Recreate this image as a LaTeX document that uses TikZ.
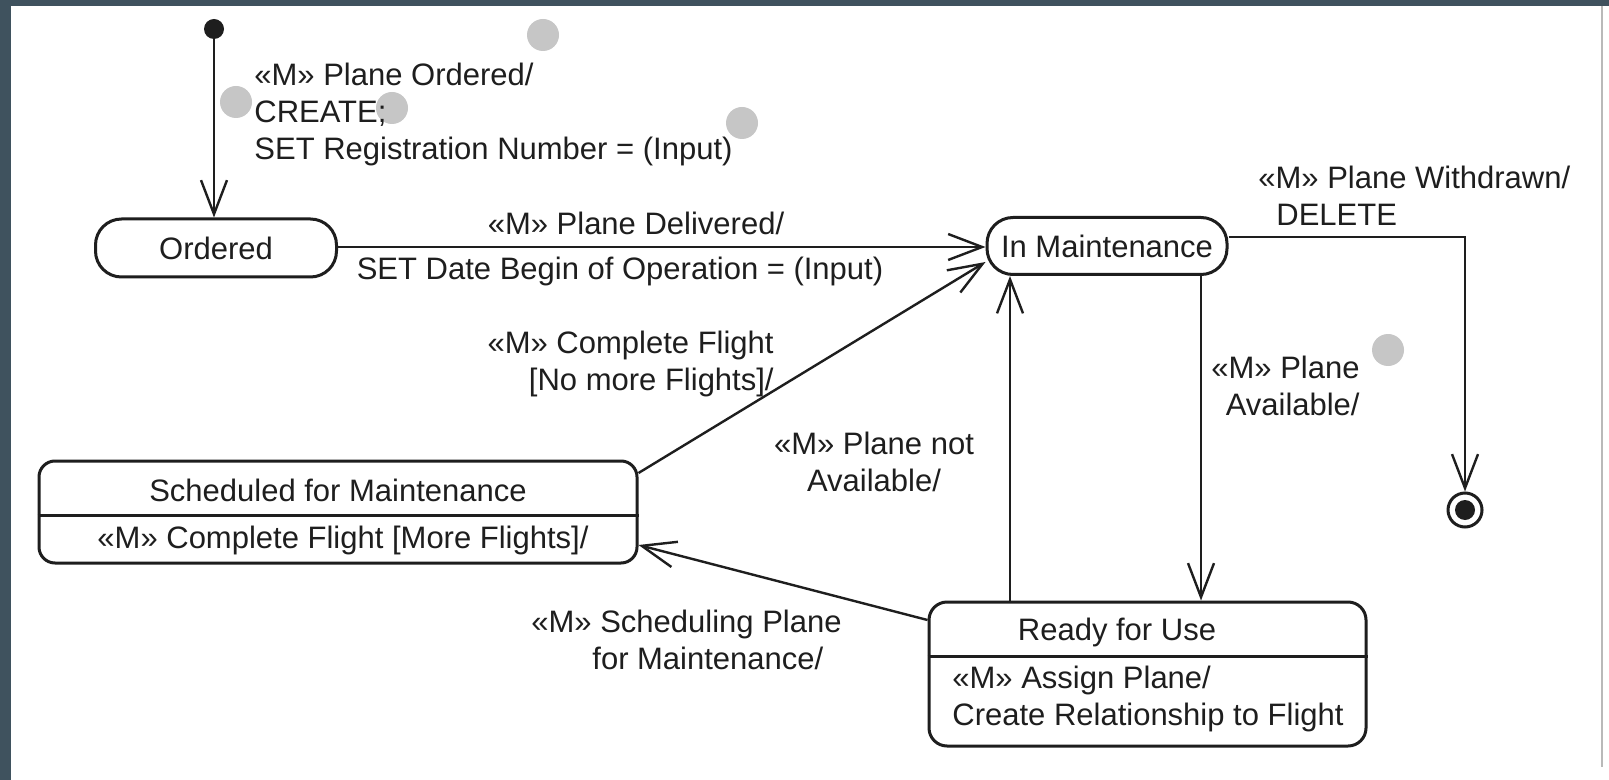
\documentclass[tikz,border=0pt]{standalone}
\usepackage{fontspec}
\setmainfont{Liberation Sans}
\usetikzlibrary{arrows.meta}
\definecolor{frame}{HTML}{3F525E}
\definecolor{marker}{HTML}{C6C6C6}
\definecolor{ink}{HTML}{1E1E1E}
\begin{document}
\begin{tikzpicture}[x=0.5pt,y=-0.5pt,
  txt/.style={font=\fontsize{15.5}{18.5}\selectfont, text=ink, inner sep=0pt},
  statebox/.style={draw=ink, line width=1.5pt, fill=white, inner sep=0pt},
  conn/.style={draw=ink, line width=1.2pt, -{Straight Barb[length=17pt,width=13pt,line width=1.2pt]}},
  markerdot/.style={circle, fill=marker, minimum size=16pt, inner sep=0pt}
]
\fill[white] (0,0) rectangle (1609,780);
\fill[frame] (0,0) rectangle (11,780);
\fill[frame] (0,0) rectangle (1609,6);
\draw[gray!55, line width=1pt] (1602,6) -- (1602,767);
\useasboundingbox (0,0) rectangle (1609,780);

% grey numbered markers
\node[markerdot] (m1) at (543,35) {};
\node[markerdot] (m2) at (236,102) {};
\node[markerdot] (m3) at (392,108) {};
\node[markerdot] (m4) at (742,123) {};
\node[markerdot] (m5) at (1388,350) {};
\node[markerdot] (m6) at (1266,687) {};

% states
\node[circle, fill=ink, minimum size=10pt, inner sep=0pt] (init) at (214,29) {};
\node[statebox, txt, minimum width=120.5pt, minimum height=29pt, rounded corners=13pt] (ordered) at (216,248) {Ordered};
\node[statebox, txt, minimum width=120pt, minimum height=28.5pt, rounded corners=13pt] (inmaint) at (1107,246) {In Maintenance};
\node[statebox, minimum width=299pt, minimum height=51pt, rounded corners=8pt] (sched) at (338,512) {};
\draw[ink, line width=1.5pt] (sched.west |- 0,515) -- (sched.east |- 0,515);
\node[txt] (schedtitle) at (338,490) {Scheduled for Maintenance};
\node[txt] (schedbody) at (343,540) {«M» Complete Flight [More Flights]/};
\node[statebox, minimum width=218.5pt, minimum height=72pt, rounded corners=9pt] (ready) at (1147.5,674) {};
\draw[ink, line width=1.5pt] (ready.west |- 0,656) -- (ready.east |- 0,656);
\node[txt] (readytitle) at (1117,632) {Ready for Use};
\node[txt, align=left, anchor=west] (readybody) at (952,699) {«M» Assign Plane/\\Create Relationship to Flight};
\node[circle, draw=ink, line width=1.5pt, fill=white, minimum size=17pt, inner sep=0pt] (final) at (1465,510) {};
\fill[ink] (final.center) circle (5pt);

% transitions
\draw[conn] (init.south) -- (init.south |- ordered.north);
\draw[conn] (ordered.east |- 0,247) -- (inmaint.west |- 0,247);
\draw[conn] (sched.east |- 0,473) -- (inmaint.west |- 0,262);
\draw[conn] (ready.north -| 1010,0) -- (inmaint.south -| 1010,0);
\draw[conn] (inmaint.south -| 1201,0) -- (ready.north -| 1201,0);
\draw[conn] (inmaint.east |- 0,237) -| (final.north);
\draw[conn] (ready.west |- 0,620) -- (sched.east |- 0,545);

% labels
\node[txt, align=left, anchor=west] (lordered) at (254,114) {«M» Plane Ordered/\\CREATE;\\SET Registration Number = (Input)};
\node[txt] (ldeliv1) at (636,223) {«M» Plane Delivered/};
\node[txt] (ldeliv2) at (620,271) {SET Date Begin of Operation = (Input)};
\node[txt, align=right, anchor=east] (lcomplete) at (774,364) {«M» Complete Flight\\{}[No more Flights]/};
\node[txt, align=center] (lnotavail) at (874,462) {«M» Plane not\\Available/};
\node[txt, align=right, anchor=east] (lavail) at (1360,386) {«M» Plane\\Available/};
\node[txt, align=left, anchor=west] (lwithdrawn) at (1258,196) {«M» Plane Withdrawn/\\\hspace*{9pt}DELETE};
\node[txt, align=left, anchor=west] (lsched) at (531,640) {«M» Scheduling Plane\\\hspace*{30.5pt}for Maintenance/};
\end{tikzpicture}
\end{document}
